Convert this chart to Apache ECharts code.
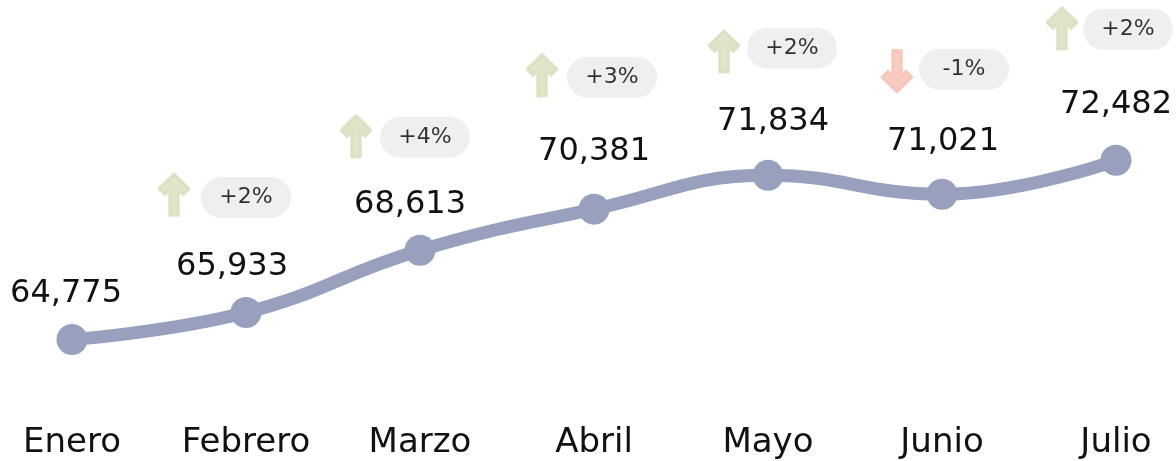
<!DOCTYPE html>
<html>
<head>
<meta charset="utf-8">
<script src="https://cdn.jsdelivr.net/npm/echarts@6/dist/echarts.min.js"></script>
<style>
html,body{margin:0;padding:0;background:#fff;}
#chart{width:1176px;height:461px;}
</style>
</head>
<body>
<div id="chart"></div>
<script>
// ---- data ----
const categories = ['Enero', 'Febrero', 'Marzo', 'Abril', 'Mayo', 'Junio', 'Julio'];
const values = [64775, 65933, 68613, 70381, 71834, 71021, 72482];
const changes = [null, 2, 4, 3, 2, -1, 2]; // % vs previous month

// ---- styling (pixel offsets of annotations relative to each point) ----
const labelOffsets = [[-6, -46], [-14, -46], [-10, -46], [0, -57], [5, -54], [1, -53], [0, -56]];
const arrowOffsets = [[0, 0], [-72, -118], [-64, -114], [-52, -134], [-44, -124], [-45, -123], [-54, -132]];
const badgeOffsets = [[0, 0], [0, -115], [5, -113], [18, -132], [24, -127], [22, -125], [12, -131]];

const FONT = 'DejaVu Sans';
const upColor = '#d6debb';
const downColor = '#f8bfb3';
const arrowPath = 'path://M15,0 L30,15 L24,21 L19.5,16.5 L19.5,42 L10.5,42 L10.5,16.5 L6,21 L0,15 Z';

const lineData = values.map((v, i) => ({
  value: v,
  label: { offset: labelOffsets[i] }
}));

const arrowData = values.map((v, i) => {
  if (changes[i] === null) return { value: '-' };
  const up = changes[i] >= 0;
  return {
    value: v,
    symbolOffset: arrowOffsets[i],
    symbolRotate: up ? 0 : 180,
    itemStyle: { color: up ? upColor : downColor, borderColor: up ? upColor : downColor }
  };
});

const badgeData = values.map((v, i) => {
  if (changes[i] === null) return { value: '-' };
  return {
    value: v,
    change: changes[i],
    label: { offset: badgeOffsets[i] }
  };
});

const chart = echarts.init(document.getElementById('chart'));
chart.setOption({
  animation: false,
  backgroundColor: '#ffffff',
  grid: { left: 72, right: 60, top: 32, bottom: 57, containLabel: false },
  xAxis: {
    type: 'category',
    data: categories,
    boundaryGap: false,
    axisLine: { show: false },
    axisTick: { show: false },
    splitLine: { show: false },
    axisLabel: { fontFamily: FONT, fontSize: 34, color: '#111', margin: 22 }
  },
  yAxis: {
    type: 'value',
    min: 62000,
    max: 78000,
    show: false,
    splitLine: { show: false }
  },
  series: [
    {
      type: 'line',
      data: lineData,
      smooth: 0.45,
      symbol: 'circle',
      symbolSize: 31,
      z: 4,
      lineStyle: { color: '#98a0be', width: 13 },
      itemStyle: { color: '#98a0be' },
      label: {
        show: true,
        position: 'inside',
        fontFamily: FONT,
        fontSize: 32,
        color: '#111',
        formatter: p => p.value.toLocaleString('en-US')
      }
    },
    {
      type: 'scatter',
      data: arrowData,
      symbol: arrowPath,
      symbolSize: [30, 41],
      symbolKeepAspect: false,
      clip: false,
      z: 3,
      itemStyle: { borderWidth: 3, borderJoin: 'round' },
      silent: true
    },
    {
      type: 'scatter',
      data: badgeData,
      symbolSize: 1,
      clip: false,
      z: 1,
      silent: true,
      itemStyle: { color: 'rgba(0,0,0,0)' },
      label: {
        show: true,
        position: 'inside',
        fontFamily: FONT,
        fontSize: 22,
        lineHeight: 22,
        color: '#000',
        width: 54,
        align: 'center',
        backgroundColor: '#ebebeb',
        borderRadius: 21,
        padding: [10, 18, 9, 18],
        formatter: p => (p.data.change > 0 ? '+' : '') + p.data.change + '%'
      }
    }
  ]
});
</script>
</body>
</html>
